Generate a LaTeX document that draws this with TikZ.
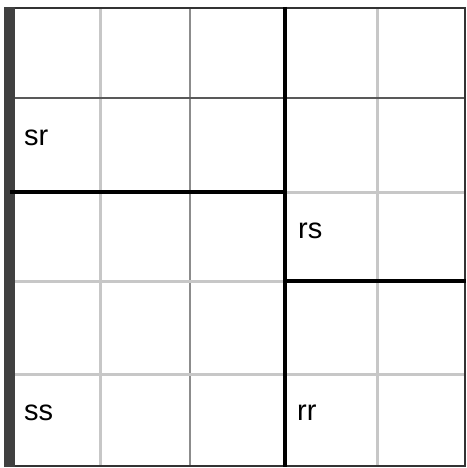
\documentclass[tikz,border=0pt]{standalone}
\usepackage{fontspec}
\setmainfont{Liberation Sans}
\begin{document}
\begin{tikzpicture}[x=1pt,y=-1pt,
  lightline/.style={draw=black!22,line width=3pt},
  midline/.style={draw=black!45,line width=2.5pt},
  darkline/.style={draw=black!65,line width=1.8pt},
  border/.style={draw=black!80,line width=2pt},
  heavy/.style={draw=black,line width=3.8pt},
  lbl/.style={anchor=base west,inner sep=0pt,font=\fontsize{29}{30}\selectfont}]
\useasboundingbox[fill=white] (0,0) rectangle (466,468);
% light grid lines
\draw[lightline] (100,8) -- (100,466);
\draw[midline] (190,8) -- (190,466);
\draw[lightline] (377,8) -- (377,466);
\draw[lightline] (285,192) -- (464,192);
\draw[lightline] (10,281) -- (285,281);
\draw[lightline] (10,374) -- (464,374);
\draw[darkline] (10,98) -- (464,98);
% borders
\draw[border] (9,8) -- (464.5,8) -- (464.5,466) -- (9,466);
\fill[black!75] (4,7) rectangle (15,467);
% heavy dividers
\draw[heavy] (285,7) -- (285,467);
\draw[heavy] (10,192) -- (285,192);
\draw[heavy] (285,281) -- (466,281);
% labels
\node[lbl] (sr) at (24,145) {sr};
\node[lbl] (rs) at (298,238) {rs};
\node[lbl] (ss) at (24,420) {ss};
\node[lbl] (rr) at (297,420) {rr};
\end{tikzpicture}
\end{document}
